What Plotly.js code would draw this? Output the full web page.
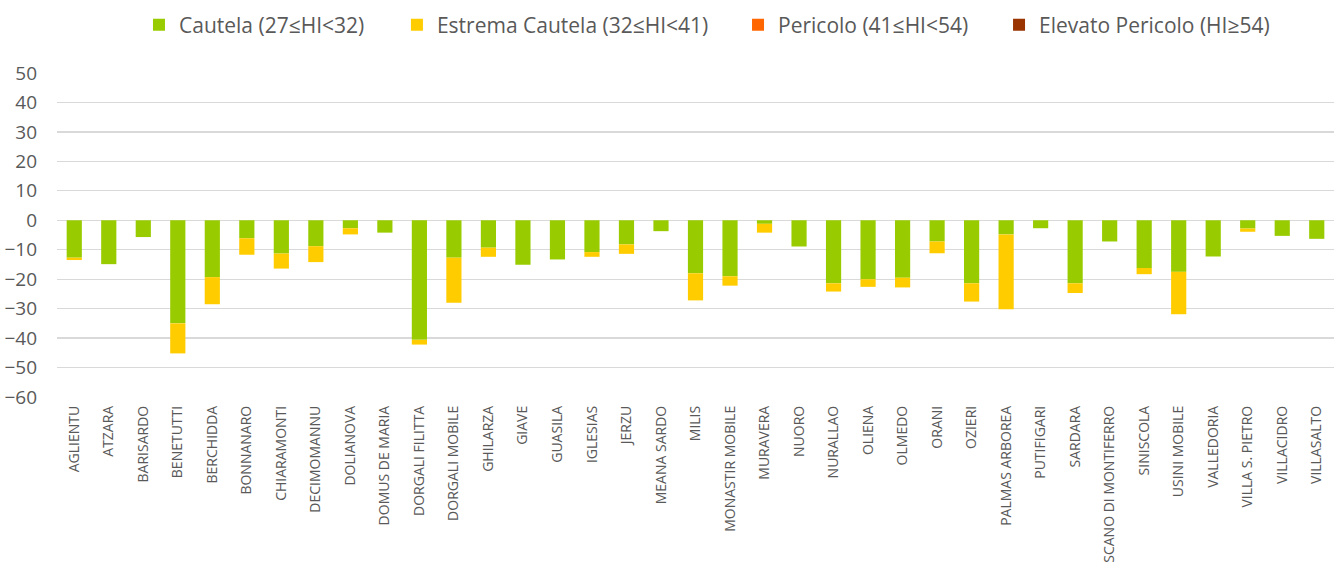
<!DOCTYPE html>
<html>
<head>
<meta charset="utf-8">
<script src="https://cdn.plot.ly/plotly-3.0.1.min.js"></script>
<style>html,body{margin:0;padding:0;background:#fff;}#chart{width:1334px;height:563px;}</style>
</head>
<body>
<div id="chart"></div>
<script>
var stations = ["AGLIENTU","ATZARA","BARISARDO","BENETUTTI","BERCHIDDA","BONNANARO","CHIARAMONTI","DECIMOMANNU","DOLIANOVA","DOMUS DE MARIA","DORGALI FILITTA","DORGALI MOBILE","GHILARZA","GIAVE","GUASILA","IGLESIAS","JERZU","MEANA SARDO","MILIS","MONASTIR MOBILE","MURAVERA","NUORO","NURALLAO","OLIENA","OLMEDO","ORANI","OZIERI","PALMAS ARBOREA","PUTIFIGARI","SARDARA","SCANO DI MONTIFERRO","SINISCOLA","USINI MOBILE","VALLEDORIA","VILLA S. PIETRO","VILLACIDRO","VILLASALTO"];
var cautela = [-12.7,-14.9,-5.7,-35.0,-19.3,-6.1,-11.3,-8.8,-2.7,-4.2,-40.6,-12.7,-9.3,-15.1,-13.3,-10.8,-8.2,-3.7,-18.0,-19.0,-1.2,-8.9,-21.4,-20.0,-19.5,-7.2,-21.4,-4.8,-2.7,-21.4,-7.2,-16.2,-17.5,-12.3,-2.8,-5.3,-6.3];
var estremaCautela = [-0.8,0,0,-10.2,-9.2,-5.6,-5.1,-5.4,-2.1,0,-1.6,-15.3,-3.1,0,0,-1.6,-3.2,0,-9.2,-3.2,-3.0,0,-2.8,-2.6,-3.3,-4.0,-6.2,-25.4,0,-3.3,0,-2.1,-14.4,0,-1.1,0,0];
var pericolo = [0,0,0,0,0,0,0,0,0,0,0,0,0,0,0,0,0,0,0,0,0,0,0,0,0,0,0,0,0,0,0,0,0,0,0,0,0];
var elevatoPericolo = [0,0,0,0,0,0,0,0,0,0,0,0,0,0,0,0,0,0,0,0,0,0,0,0,0,0,0,0,0,0,0,0,0,0,0,0,0];
var seriesNames = ["Cautela (27≤HI<32)","Estrema Cautela (32≤HI<41)","Pericolo (41≤HI<54)","Elevato Pericolo (HI≥54)"];
var yTicks = [-60,-50,-40,-30,-20,-10,0,10,20,30,40,50];

var colors = ["#99CC00","#FFCC00","#FF6600","#993300"];
var legendIds = ["legend","legend2","legend3","legend4"];
var legendX = [0.0642,0.2662,0.5333,0.7377];
var vals = [cautela, estremaCautela, pericolo, elevatoPericolo];
var traces = vals.map(function(v,i){
  return {type:"bar", x:stations, y:v, name:seriesNames[i], legend:legendIds[i],
    marker:{color:colors[i], line:{width:0}}, hoverinfo:"x+y+name"};
});

var layout = {
  width:1334, height:563,
  margin:{l:57, r:0, t:73, b:166, autoexpand:false},
  paper_bgcolor:"#fff", plot_bgcolor:"#fff",
  barmode:"relative", bargap:0.56,
  font:{family:"Open Sans, sans-serif", color:"#595959"},
  showlegend:true,
  xaxis:{type:"category", tickangle:-90, tickfont:{size:14, color:"#595959"},
    showgrid:false, showline:false, ticks:"", ticklabelstandoff:5, automargin:false},
  yaxis:{range:[-60,50], tickvals:yTicks, showgrid:true, gridcolor:"#d9d9d9", gridwidth:1.3,
    zeroline:true, zerolinecolor:"#d9d9d9", zerolinewidth:1.3, showline:false, ticks:"",
    ticklabelstandoff:19, tickfont:{size:19, color:"#595959"}, automargin:false}
};
legendIds.forEach(function(id,i){
  layout[id] = {orientation:"h", x:legendX[i], xanchor:"left", y:1.148, yanchor:"middle",
    font:{size:21, color:"#595959"}, itemwidth:30, bgcolor:"rgba(0,0,0,0)"};
});
Plotly.newPlot("chart", traces, layout, {displayModeBar:false, staticPlot:true});
</script>
</body>
</html>
